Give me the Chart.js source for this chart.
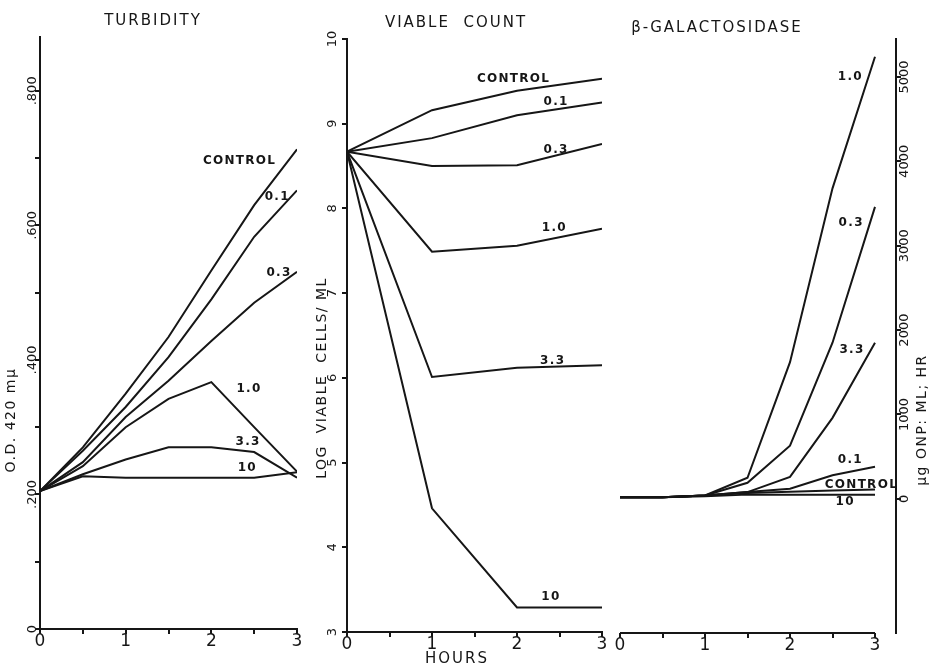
<!DOCTYPE html>
<html>
<head>
<meta charset="utf-8">
<title>Turbidity, viable count and beta-galactosidase</title>
<script src="https://cdn.jsdelivr.net/npm/chart.js@4.4.0/dist/chart.umd.min.js"></script>
<style>
  body { margin: 0; background: #fff; }
  #wrap { position: relative; width: 935px; height: 669px; overflow: hidden; }
  canvas { position: absolute; top: 0; }
</style>
</head>
<body>
<div id="wrap">
  <canvas id="turb" width="310" height="669" style="left:0"></canvas>
  <canvas id="viable" width="320" height="669" style="left:300px"></canvas>
  <canvas id="galac" width="330" height="669" style="left:605px"></canvas>
</div>
<script>
const INK = '#161616';
const FONT = '"DejaVu Sans", sans-serif';

// sampling times (hours)
const halfHours = [0, 0.5, 1, 1.5, 2, 2.5, 3];
const wholeHours = [0, 1, 2, 3];
const series = ['CONTROL', '0.1', '0.3', '1.0', '3.3', '10'];

// turbidity, O.D. 420 mμ
const turbControl = [0.205, 0.27, 0.35, 0.434, 0.533, 0.63, 0.713];
const turb01 = [0.205, 0.265, 0.33, 0.404, 0.49, 0.583, 0.652];
const turb03 = [0.205, 0.248, 0.315, 0.369, 0.428, 0.485, 0.531];
const turb10 = [0.205, 0.242, 0.30, 0.342, 0.367, 0.30, 0.234];
const turb33 = [0.205, 0.23, 0.252, 0.27, 0.27, 0.263, 0.225];
const turb100 = [0.205, 0.227, 0.225, 0.225, 0.225, 0.225, 0.233];

// log viable cells / ml
const viaControl = [8.67, 9.16, 9.39, 9.53];
const via01 = [8.67, 8.83, 9.10, 9.25];
const via03 = [8.67, 8.50, 8.51, 8.76];
const via10 = [8.67, 7.49, 7.56, 7.76];
const via33 = [8.67, 6.01, 6.12, 6.15];
const via100 = [8.67, 4.46, 3.29, 3.29];

// beta-galactosidase, μg ONP / ml / hr
const galControl = [20, 20, 40, 70, 85, 100, 110];
const gal01 = [20, 20, 40, 80, 120, 280, 380];
const gal03 = [20, 20, 40, 190, 630, 1850, 3460];
const gal10 = [20, 20, 40, 250, 1620, 3680, 5240];
const gal33 = [20, 20, 40, 80, 260, 960, 1850];
const gal100 = [20, 20, 30, 50, 50, 50, 50];

// axis ticks
const xTicks = [0, 0.5, 1, 1.5, 2, 2.5, 3];
const turbTicks = [0, 0.1, 0.2, 0.3, 0.4, 0.5, 0.6, 0.7, 0.8];
const turbTickText = ['0', '', '.200', '', '.400', '', '.600', '', '.800'];
const viaTicks = [3, 4, 5, 6, 7, 8, 9, 10];
const galTicks = [0, 1000, 2000, 3000, 4000, 5000];

// where the curve names are written (hours, value)
const turbNotes = [[2.33, 0.696], [2.77, 0.642], [2.79, 0.530], [2.44, 0.357], [2.43, 0.278], [2.42, 0.240]];
const viaNotes = [[1.96, 9.53], [2.46, 9.26], [2.46, 8.69], [2.44, 7.77], [2.42, 6.20], [2.40, 3.41]];
const galNotes = [[2.84, 165], [2.71, 460], [2.72, 3270], [2.71, 5000], [2.73, 1765], [2.65, -35]];

function pts(xs, ys) {
  return xs.map((x, i) => ({ x: x, y: ys[i] }));
}

function lines(xs, list) {
  return list.map((ys, i) => ({
    label: series[i],
    data: pts(xs, ys),
    borderColor: INK,
    borderWidth: 2,
    pointRadius: 0,
    tension: 0,
    fill: false
  }));
}

function rotText(ctx, text, x, y) {
  ctx.save();
  ctx.translate(x, y);
  ctx.rotate(-Math.PI / 2);
  ctx.fillText(text, 0, 0);
  ctx.restore();
}

const lettering = {
  id: 'lettering',
  afterDraw(chart, args, o) {
    const ctx = chart.ctx;
    const xs = chart.scales.x, ys = chart.scales.y;
    ctx.save();
    ctx.fillStyle = INK;
    ctx.strokeStyle = INK;
    ctx.textAlign = 'center';
    ctx.textBaseline = 'middle';

    if (o.xLineTo != null) {
      ctx.lineWidth = 2;
      ctx.beginPath();
      ctx.moveTo(xs.getPixelForValue(0), ys.bottom);
      ctx.lineTo(xs.getPixelForValue(o.xLineTo), ys.bottom);
      ctx.stroke();
    }

    ctx.font = '15px ' + FONT;
    ctx.letterSpacing = '2px';
    ctx.fillText(o.title, o.titleAt[0], o.titleAt[1]);

    if (o.hours) ctx.fillText('HOURS', o.hours[0], o.hours[1]);

    ctx.font = '14px ' + FONT;
    ctx.letterSpacing = '1.5px';
    rotText(ctx, o.yTitle, o.yTitleAt[0], o.yTitleAt[1]);

    ctx.letterSpacing = '0px';
    ctx.font = '17px ' + FONT;
    [0, 1, 2, 3].forEach(v => ctx.fillText(String(v), xs.getPixelForValue(v), ys.bottom + 13));

    ctx.font = '13px ' + FONT;
    const ax = o.yRight ? ys.left : ys.right;
    ys.ticks.forEach((t, i) => {
      const s = o.yText(t.value, i);
      if (s) rotText(ctx, s, ax + o.yGap, ys.getPixelForValue(t.value));
    });

    ctx.font = 'bold 12px ' + FONT;
    ctx.letterSpacing = '1.3px';
    o.notes.forEach((p, i) => {
      ctx.fillText(series[i], xs.getPixelForValue(p[0]), ys.getPixelForValue(p[1]));
    });
    ctx.restore();
  }
};

function makeChart(id, datasets, cfg) {
  const xMax = cfg.xMax || 3;
  return new Chart(document.getElementById(id), {
    type: 'line',
    data: { datasets: datasets },
    options: {
      responsive: false,
      animation: false,
      devicePixelRatio: 1,
      layout: { padding: cfg.padding },
      plugins: {
        legend: { display: false },
        tooltip: { enabled: false },
        lettering: cfg.lettering
      },
      scales: {
        x: {
          type: 'linear',
          min: 0,
          max: xMax,
          afterBuildTicks: s => { s.ticks = xTicks.map(v => ({ value: v })); },
          ticks: { display: false },
          grid: { drawOnChartArea: false, drawTicks: true, tickLength: 5, color: INK, lineWidth: 2 },
          border: { display: cfg.xBorder !== false, color: INK, width: 2 }
        },
        y: {
          type: 'linear',
          position: cfg.yRight ? 'right' : 'left',
          min: cfg.yMin,
          max: cfg.yMax,
          afterBuildTicks: s => { s.ticks = cfg.yTicks.map(v => ({ value: v })); },
          ticks: { display: false },
          grid: { drawOnChartArea: false, drawTicks: true, tickLength: 5, color: INK, lineWidth: 2 },
          border: { color: INK, width: 2 }
        }
      }
    },
    plugins: [lettering]
  });
}

makeChart('turb',
  lines(halfHours, [turbControl, turb01, turb03, turb10, turb33, turb100]),
  {
    padding: { left: 35, right: 13, top: 37, bottom: 35 },
    yMin: 0, yMax: 0.88, yTicks: turbTicks,
    lettering: {
      title: 'TURBIDITY', titleAt: [153, 21],
      yTitle: 'O.D. 420 mμ', yTitleAt: [11, 420],
      yGap: -7, yText: (v, i) => turbTickText[i],
      notes: turbNotes
    }
  });

makeChart('viable',
  lines(wholeHours, [viaControl, via01, via03, via10, via33, via100]),
  {
    padding: { left: 42, right: 18, top: 39, bottom: 32 },
    yMin: 3, yMax: 10, yTicks: viaTicks,
    lettering: {
      title: 'VIABLE  COUNT', titleAt: [156, 23],
      hours: [157, 659],
      yTitle: 'LOG  VIABLE  CELLS/ ML', yTitleAt: [22, 378],
      yGap: -14, yText: v => String(v),
      notes: viaNotes
    }
  });

makeChart('galac',
  lines(halfHours, [galControl, gal01, gal03, gal10, gal33, gal100]),
  {
    padding: { left: 15, right: 34, top: 39, bottom: 31 },
    xMax: 276 / 85, xBorder: false, yRight: true,
    yMin: -1590, yMax: 5450, yTicks: galTicks,
    lettering: {
      title: 'β-GALACTOSIDASE', titleAt: [112, 28],
      xLineTo: 3, yRight: true,
      yTitle: 'μg ONP: ML; HR', yTitleAt: [317, 420],
      yGap: 9, yText: v => String(v),
      notes: galNotes
    }
  });
</script>
</body>
</html>
